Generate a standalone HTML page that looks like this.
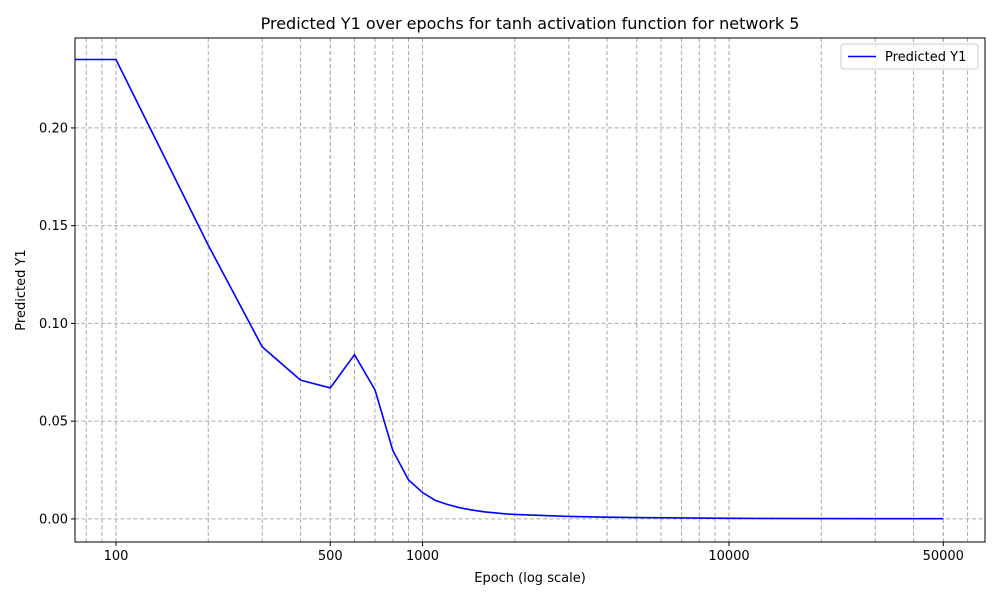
<!DOCTYPE html>
<html><head><meta charset="utf-8"><style>
body{margin:0;background:#fff;font-family:"Liberation Sans","DejaVu Sans",sans-serif}
svg text{font-family:"DejaVu Sans","Liberation Sans",sans-serif;fill:#000}
</style></head><body>
<svg id="c" width="1000" height="600"></svg>
<script>
const epochs=[0,100,200,300,400,500,600,700,800,900,1000,1100,1200,1300,1400,1500,1600,1700,1800,1900,2000,3000,4000,5000,10000,20000,50000];
const predictedY1=[0.235,0.235,0.14,0.088,0.071,0.067,0.084,0.066,0.035,0.020,0.0135,0.0095,0.0075,0.006,0.005,0.0042,0.0036,0.0032,0.0028,0.0025,0.0023,0.0013,0.0009,0.0007,0.0003,0.0002,0.0001];
const xTickValues=[100,500,1000,10000,50000];
const xTickLabels=["100","500","1000","10000","50000"];
const yTickValues=[0,0.05,0.1,0.15,0.2];
const yTickLabels=["0.00","0.05","0.10","0.15","0.20"];
const NS="http://www.w3.org/2000/svg",svg=document.getElementById('c');
const L=75,R=985,T=38,B=542,xMin=73.5,xMax=68400,yMin=-0.0118,yMax=0.246;
function x(v){if(v<=xMin)return L;return L+(Math.log10(v)-Math.log10(xMin))/(Math.log10(xMax)-Math.log10(xMin))*(R-L);}
function y(v){return B-(v-yMin)/(yMax-yMin)*(B-T);}
function el(t,a,p){const e=document.createElementNS(NS,t);for(const k in a)e.setAttribute(k,a[k]);(p||svg).appendChild(e);return e;}
const grid=el('g',{});


const gs={stroke:'#aaaaaa','stroke-dasharray':'4,2.5','stroke-width':1};
for(let d=10;d<=100000;d*=10)for(let m=1;m<10;m++){const v=d*m;if(v<xMin||v>xMax)continue;const gx=x(v);
 el('line',Object.assign({x1:gx,x2:gx,y1:T,y2:B},gs),grid);}
xTickValues.forEach(v=>el('line',Object.assign({x1:x(v),x2:x(v),y1:T,y2:B},gs),grid));
yTickValues.forEach(v=>el('line',Object.assign({x1:L,x2:R,y1:y(v),y2:y(v)},gs),grid));
const clip=el('clipPath',{id:'cp'});el('rect',{x:L,y:T,width:R-L,height:B-T},clip);
const line=el('polyline',{points:epochs.map((e,i)=>x(e)+','+y(predictedY1[i])).join(' '),fill:'none',stroke:'#0000ff','stroke-width':1.6,'clip-path':'url(#cp)'});


el('rect',{x:L,y:T,width:R-L,height:B-T,fill:'none',stroke:'#000','stroke-width':1});
xTickValues.forEach((v,i)=>{el('line',{x1:x(v),x2:x(v),y1:B,y2:B+4,stroke:'#000'});
 const t=el('text',{x:x(v),y:B+18,'font-size':13,'text-anchor':'middle'});t.textContent=xTickLabels[i];
 
 });
yTickValues.forEach((v,i)=>{el('line',{x1:L-4,x2:L,y1:y(v),y2:y(v),stroke:'#000'});
 const t=el('text',{x:L-7,y:y(v)+4.5,'font-size':13,'text-anchor':'end'});t.textContent=yTickLabels[i];
 
 });
</script>
<svg width="1000" height="600" style="position:absolute;left:0;top:0">
<text x="530" y="29" font-size="16" text-anchor="middle">Predicted Y1 over epochs for tanh activation function for network 5</text>
<text x="530" y="582" font-size="13" text-anchor="middle">Epoch (log scale)</text>
<text x="25" y="290" font-size="13" text-anchor="middle" transform="rotate(-90 25 290)">Predicted Y1</text>
<g>
<rect x="841" y="44" width="137" height="25" rx="3" fill="#fff" fill-opacity="0.8" stroke="#ccc"/>
<line x1="848" x2="876" y1="56.5" y2="56.5" stroke="#0000ff" stroke-width="1.6"/>
<text x="885" y="61" font-size="13">Predicted Y1</text>
</g>
</svg>
</body></html>
